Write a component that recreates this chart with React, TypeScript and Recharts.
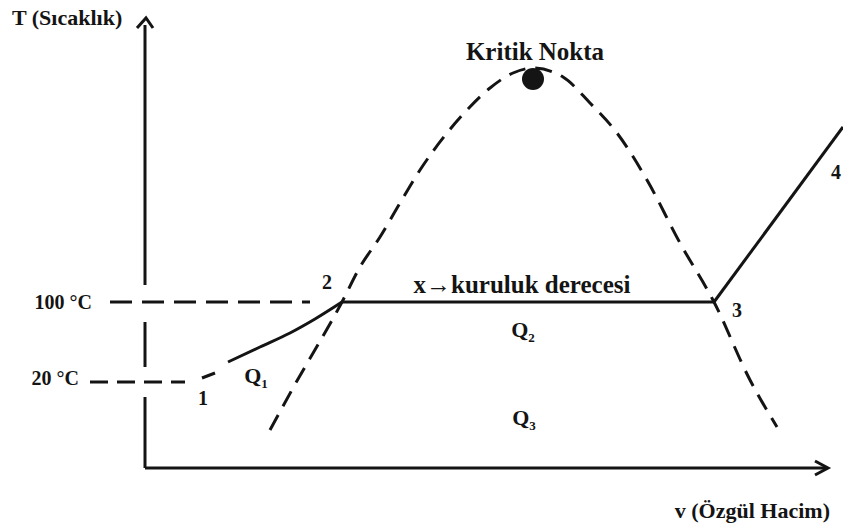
import React from 'react';
import { ComposedChart, Line, Scatter, XAxis, YAxis, ReferenceDot } from 'recharts';

// T–v diagram of water: v in arbitrary units, T in °C

// saturation dome, liquid side up to the critical point and down the vapour side
const dome = [
  { v: 1.25, T: -28 },
  { v: 1.48, T: 14 },
  { v: 1.97, T: 100 },
  { v: 2.15, T: 135 },
  { v: 2.35, T: 165 },
  { v: 2.55, T: 199 },
  { v: 2.75, T: 232 },
  { v: 3.02, T: 269 },
  { v: 3.22, T: 292 },
  { v: 3.45, T: 314 },
  { v: 3.68, T: 329 },
  { v: 3.88, T: 334 },
  { v: 4.18, T: 325 },
  { v: 4.45, T: 299 },
  { v: 4.72, T: 269 },
  { v: 5.02, T: 222 },
  { v: 5.35, T: 159 },
  { v: 5.69, T: 100 },
  { v: 6.05, T: 22 },
  { v: 6.32, T: -25 },
];

// 1 -> 2 heating of the liquid (dashed start, then solid)
const heatingStart = [
  { v: 0.57, T: 24 },
  { v: 0.7, T: 29 },
];
const heating = [
  { v: 0.83, T: 40 },
  { v: 1.15, T: 55 },
  { v: 1.45, T: 69 },
  { v: 1.7, T: 83 },
  { v: 1.97, T: 100 },
];

// 2 -> 3 evaporation at constant temperature
const evaporation = [
  { v: 1.97, T: 100 },
  { v: 5.69, T: 100 },
];

// 3 -> 4 superheating
const superheat = [
  { v: 5.69, T: 100 },
  { v: 6.98, T: 275 },
];

// temperature guide lines
const guide100 = [
  { v: -0.35, T: 100 },
  { v: 1.65, T: 100 },
];
const guide20 = [
  { v: -0.55, T: 20 },
  { v: 0.4, T: 20 },
];

// axes (the T axis is broken where the guide lines cross it)
const tAxisParts = [
  [{ v: 0, T: 377 }, { v: 0, T: 117 }],
  [{ v: 0, T: 80 }, { v: 0, T: 35 }],
  [{ v: 0, T: 5 }, { v: 0, T: -66 }],
];
const tArrow = [
  { v: -0.08, T: 374 },
  { v: 0.01, T: 384 },
  { v: 0.08, T: 374 },
];
const vAxis = [
  { v: 0, T: -66 },
  { v: 6.82, T: -66 },
];
const vArrow = [
  { v: 6.7, T: -59 },
  { v: 6.83, T: -66 },
  { v: 6.7, T: -73 },
];

const critical = { v: 3.88, T: 323 };

const tempLabels = [
  { v: -0.53, T: 100, text: '100 °C' },
  { v: -0.66, T: 24, text: '20 °C' },
];
const stateLabels = [
  { v: 0.58, T: 4, text: '1' },
  { v: 1.82, T: 120, text: '2' },
  { v: 5.92, T: 92, text: '3' },
  { v: 6.91, T: 230, text: '4' },
];
const heatLabels = [
  { v: 1.11, T: 27, sub: '1' },
  { v: 3.78, T: 73, sub: '2' },
  { v: 3.79, T: -15, sub: '3' },
];
const captions = [
  { v: 3.9, T: 351, text: 'Kritik Nokta' },
  { v: 3.77, T: 118, text: 'x→kuruluk derecesi' },
];
const axisTitles = [
  { v: -1.33, T: 385, text: 'T (Sıcaklık)', anchor: 'start' },
  { v: 6.85, T: -108, text: 'v (Özgül Hacim)', anchor: 'end' },
];

const INK = '#141414';
const FONT = '"Liberation Serif", "Times New Roman", serif';

const textShape = (size: number, anchor: string) => (props: any) => (
  <text
    x={props.cx}
    y={props.cy}
    dy="0.35em"
    textAnchor={props.payload.anchor || anchor}
    fontFamily={FONT}
    fontWeight="bold"
    fontSize={size}
    fill={INK}
  >
    {props.payload.text}
  </text>
);

const heatShape = (props: any) => (
  <text x={props.cx} y={props.cy} dy="0.35em" textAnchor="middle" fontFamily={FONT} fontWeight="bold" fontSize={22} fill={INK}>
    Q
    <tspan fontSize={13} dy={5}>
      {props.payload.sub}
    </tspan>
  </text>
);

const seg = (key: string, data: any[], dash?: string) => (
  <Line
    key={key}
    data={data}
    dataKey="T"
    type="linear"
    stroke={INK}
    strokeWidth={3}
    strokeDasharray={dash}
    dot={false}
    activeDot={false}
    isAnimationActive={false}
  />
);

export default function App() {
  return (
    <div style={{ position: 'absolute', left: 0, top: 0, background: '#fff' }}>
      <ComposedChart width={843} height={527} margin={{ top: 0, right: 0, bottom: 0, left: 0 }}>
        <XAxis type="number" dataKey="v" domain={[-1.45, 6.98]} allowDataOverflow hide />
        <YAxis type="number" dataKey="T" domain={[-125, 402]} allowDataOverflow hide />
        {tAxisParts.map((p, i) => seg(`tax${i}`, p))}
        {seg('tArrow', tArrow)}
        {seg('vAxis', vAxis)}
        {seg('vArrow', vArrow)}
        {seg('g100', guide100, '22 10')}
        {seg('g20', guide20, '18 9')}
        <Line
          data={dome}
          dataKey="T"
          type="monotone"
          stroke={INK}
          strokeWidth={3}
          strokeDasharray="17 10"
          dot={false}
          activeDot={false}
          isAnimationActive={false}
        />
        {seg('heatStart', heatingStart)}
        <Line
          data={heating}
          dataKey="T"
          type="monotone"
          stroke={INK}
          strokeWidth={3}
          dot={false}
          activeDot={false}
          isAnimationActive={false}
        />
        {seg('evap', evaporation)}
        {seg('superheat', superheat)}
        <ReferenceDot x={critical.v} y={critical.T} r={11} fill={INK} stroke="none" ifOverflow="visible" />
        <Scatter data={tempLabels} dataKey="T" shape={textShape(20, 'end')} isAnimationActive={false} />
        <Scatter data={stateLabels} dataKey="T" shape={textShape(20, 'middle')} isAnimationActive={false} />
        <Scatter data={heatLabels} dataKey="T" shape={heatShape} isAnimationActive={false} />
        <Scatter data={captions} dataKey="T" shape={textShape(25, 'middle')} isAnimationActive={false} />
        <Scatter data={axisTitles} dataKey="T" shape={textShape(22, 'start')} isAnimationActive={false} />
      </ComposedChart>
    </div>
  );
}
